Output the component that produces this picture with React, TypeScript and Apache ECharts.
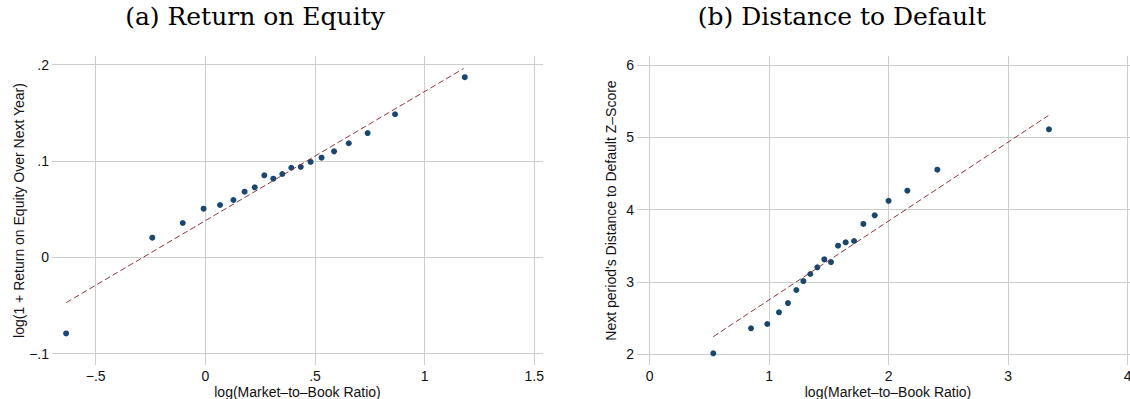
import React, { useEffect, useRef } from "react";
import * as echarts from "echarts";

// Panel (a): Return on Equity (binned scatter)
const roeX = [-0.635, -0.242, -0.103, -0.008, 0.067, 0.128, 0.179, 0.225, 0.269, 0.31, 0.351, 0.392, 0.435, 0.48, 0.53, 0.587, 0.654, 0.74, 0.865, 1.183];
const roeY = [-0.079, 0.0204, 0.0356, 0.0505, 0.0543, 0.0595, 0.0681, 0.0727, 0.0851, 0.0816, 0.0865, 0.093, 0.0938, 0.099, 0.1034, 0.11, 0.1184, 0.129, 0.1485, 0.187];
const roeFitX = [-0.635, 1.178];
const roeFitY = [-0.0471, 0.196];
const roeXTicks = [-0.5, 0, 0.5, 1, 1.5];
const roeYTicks = [-0.1, 0, 0.1, 0.2];

// Panel (b): Distance to Default (binned scatter)
const ddX = [0.532, 0.848, 0.984, 1.082, 1.157, 1.227, 1.286, 1.344, 1.403, 1.461, 1.517, 1.576, 1.64, 1.71, 1.788, 1.883, 1.999, 2.156, 2.407, 3.341];
const ddY = [2.01, 2.356, 2.415, 2.577, 2.705, 2.886, 3.01, 3.107, 3.2, 3.31, 3.273, 3.499, 3.546, 3.564, 3.8, 3.92, 4.12, 4.26, 4.551, 5.11];
const ddFitX = [0.532, 3.336];
const ddFitY = [2.24, 5.3];
const ddXTicks = [0, 1, 2, 3, 4];
const ddYTicks = [2, 3, 4, 5, 6];

const titleA = "(a) Return on Equity";
const titleB = "(b) Distance to Default";
const xTitle = "log(Market\u2013to\u2013Book Ratio)";
const yTitleA = "log(1 + Return on Equity Over Next Year)";
const yTitleB = "Next period's Distance to Default Z\u2013Score";

const MARKER = "#1a476f";
const FIT = "#90353b";
const GRID = "#cdcdcd";
const TEXT = "#111";
const SANS = "'Liberation Sans', Arial, Helvetica, sans-serif";

function fmt(v: number): string {
  if (v === 0) return "0";
  let s = String(Math.abs(v));
  if (s.startsWith("0.")) s = s.slice(1);
  return (v < 0 ? "\u2212" : "") + s;
}

function zip(a: number[], b: number[]) {
  return a.map((v, i) => [v, b[i]]);
}

export default function App() {
  const ref = useRef<HTMLDivElement>(null);
  useEffect(() => {
    if (!ref.current) return;
    const chart = echarts.init(ref.current, undefined, { renderer: "svg" });

    const xAxisCommon = (ticks: number[], min: number, max: number, gridIndex: number) => ({
      type: "value",
      gridIndex,
      min,
      max,
      name: xTitle,
      nameLocation: "middle",
      nameGap: 20,
      nameMoveOverlap: false,
      nameTextStyle: { fontFamily: SANS, fontSize: 14, color: TEXT },
      axisLine: { show: false },
      axisTick: { show: false, customValues: ticks },
      axisLabel: {
        customValues: ticks,
        formatter: fmt,
        fontFamily: SANS,
        fontSize: 14,
        color: TEXT,
        margin: 4,
      },
      splitLine: { show: true, lineStyle: { color: GRID, width: 1 } },
    });

    const yAxisCommon = (
      ticks: number[],
      min: number,
      max: number,
      gridIndex: number,
      name: string,
      gap: number
    ) => ({
      type: "value",
      gridIndex,
      min,
      max,
      name,
      nameLocation: "middle",
      nameGap: gap,
      nameMoveOverlap: false,
      nameTextStyle: { fontFamily: SANS, fontSize: 14, color: TEXT },
      axisLine: { show: false },
      axisTick: { show: false, customValues: ticks },
      axisLabel: {
        customValues: ticks,
        formatter: fmt,
        fontFamily: SANS,
        fontSize: 14,
        color: TEXT,
        margin: 3,
      },
      splitLine: { show: true, lineStyle: { color: GRID, width: 1 } },
    });

    chart.setOption({
      animation: false,
      backgroundColor: "#ffffff",
      grid: [
        { left: 52, top: 56, width: 491, height: 309, outerBoundsMode: "none", containLabel: false },
        { left: 637, top: 56, width: 502, height: 309, outerBoundsMode: "none", containLabel: false },
      ],
      xAxis: [
        xAxisCommon(roeXTicks, -0.6993, 1.5397, 0),
        xAxisCommon(ddXTicks, -0.1063, 4.0946, 1),
      ],
      yAxis: [
        yAxisCommon(roeYTicks, -0.1118, 0.209, 0, yTitleA, 26),
        yAxisCommon(ddYTicks, 1.8478, 6.1246, 1, yTitleB, 19),
      ],
      graphic: [
        {
          type: "text",
          x: 255,
          y: 16,
          style: {
            text: titleA,
            fontFamily: "'DejaVu Serif', serif",
            fontSize: 25,
            fill: "#000",
            align: "center",
            verticalAlign: "middle",
          },
        },
        {
          type: "text",
          x: 842,
          y: 16,
          style: {
            text: titleB,
            fontFamily: "'DejaVu Serif', serif",
            fontSize: 25,
            fill: "#000",
            align: "center",
            verticalAlign: "middle",
          },
        },
      ],
      series: [
        {
          type: "line",
          xAxisIndex: 0,
          yAxisIndex: 0,
          data: zip(roeFitX, roeFitY),
          symbol: "none",
          lineStyle: { color: FIT, width: 1, type: [6, 3] },
          silent: true,
        },
        {
          type: "scatter",
          xAxisIndex: 0,
          yAxisIndex: 0,
          data: zip(roeX, roeY),
          symbolSize: 6,
          itemStyle: { color: MARKER, opacity: 1 },
        },
        {
          type: "line",
          xAxisIndex: 1,
          yAxisIndex: 1,
          data: zip(ddFitX, ddFitY),
          symbol: "none",
          lineStyle: { color: FIT, width: 1, type: [6, 3] },
          silent: true,
        },
        {
          type: "scatter",
          xAxisIndex: 1,
          yAxisIndex: 1,
          data: zip(ddX, ddY),
          symbolSize: 6,
          itemStyle: { color: MARKER, opacity: 1 },
        },
      ],
    });
    return () => chart.dispose();
  }, []);

  return (
    <div
      ref={ref}
      style={{ position: "absolute", left: 0, top: 0, width: 1130, height: 399, background: "#fff" }}
    />
  );
}
